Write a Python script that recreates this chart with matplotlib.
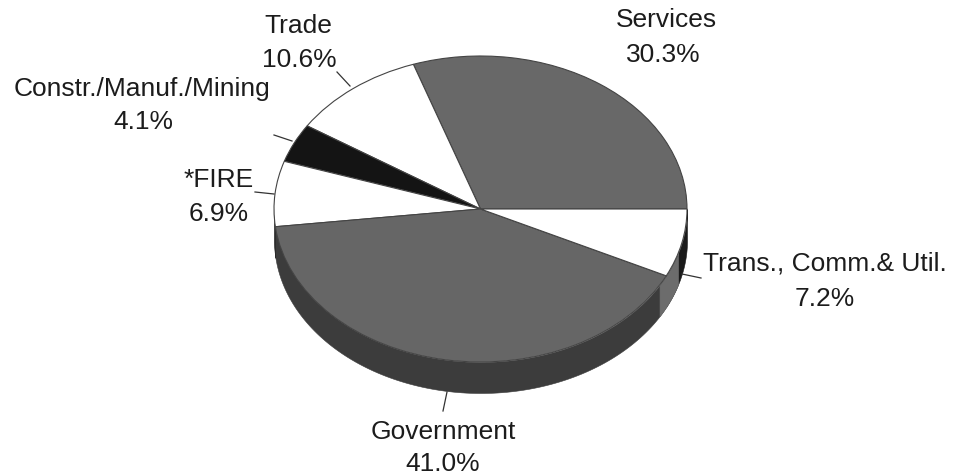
import numpy as np
import matplotlib
matplotlib.use("Agg")
import matplotlib.pyplot as plt
from matplotlib.lines import Line2D

W, H = 961, 477

# Employment shares by sector, counter-clockwise from due east
sectors = ["Services", "Trade", "Constr./Manuf./Mining", "*FIRE", "Government",
           "Trans., Comm.& Util."]
shares = [30.3, 10.6, 4.1, 6.9, 41.0, 7.2]
top_colors = ["#686868", "#ffffff", "#141414", "#ffffff", "#666666", "#ffffff"]
side_colors = ["#3a3a3a", "#3a3a3a", "#141414", "#141414", "#3c3c3c", "#1a1a1a"]

# Label text: name and value centres, with leader line, in figure pixels
name_x = [666, 298, 142, 219, 443, 825]
value_x = [663, 299, 143, 219, 443, 825]
label_y = [[20, 55], [26, 60], [89, 122], [180, 214], [432, 464], [264, 299]]
leaders = [None,
           [(337, 73), (350, 87)],
           [(274, 136), (292, 142)],
           [(255, 193), (274, 195)],
           [(447, 393), (443, 412)],
           [(682, 275), (701, 279)]]

# Ellipse of the pie's top face, in pixels
cx, cy, rx, ry = 480.5, 210.0, 206.5, 153.0
depth = 31.0 / ry

plt.rcParams["font.family"] = ["Liberation Sans", "DejaVu Sans"]
fig = plt.figure(figsize=(W / 100, H / 100), dpi=100, facecolor="white")
ax = fig.add_axes([0, 0, 1, 1])

wedges, _ = ax.pie(shares, colors=top_colors, startangle=0, counterclock=True,
                   radius=1.0, center=(0, 0),
                   wedgeprops=dict(edgecolor="#444444", linewidth=0.8, zorder=3))
ax.set_aspect("auto")
ax.set_xlim(-cx / rx, (W - cx) / rx)
ax.set_ylim((cy - H) / ry, cy / ry)
ax.set_axis_off()


def draw_wall(lo, hi, colour):
    t = np.radians(np.linspace(lo, hi, 120))
    ax.fill_between(np.cos(t), np.sin(t), np.sin(t) - depth,
                    color=colour, linewidth=0.4, zorder=1)


# Side wall of the disc, visible along the front half only
edges = np.cumsum([0] + shares) / sum(shares) * 360
for start, end, colour in zip(edges[:-1], edges[1:], side_colors):
    lo, hi = max(start, 180), end
    if hi > lo:
        draw_wall(lo, hi, colour)

# Paler patch of wall where the light catches the right-hand edge
draw_wall(edges[-2] - 4, edges[-2] + 9, "#6c6c6c")

for name, share, nx, vx, ys, leader in zip(sectors, shares, name_x, value_x,
                                           label_y, leaders):
    fig.text(nx / W, 1 - ys[0] / H, name, ha="center", va="center",
             fontsize=19, color="#1c1c1c")
    fig.text(vx / W, 1 - ys[1] / H, f"{share:.1f}%", ha="center", va="center",
             fontsize=19, color="#1c1c1c")
    if leader:
        (x0, y0), (x1, y1) = leader
        fig.add_artist(Line2D([x0 / W, x1 / W], [1 - y0 / H, 1 - y1 / H],
                              color="#333333", linewidth=0.9))

fig.savefig("out.png", dpi=100, facecolor="white")
